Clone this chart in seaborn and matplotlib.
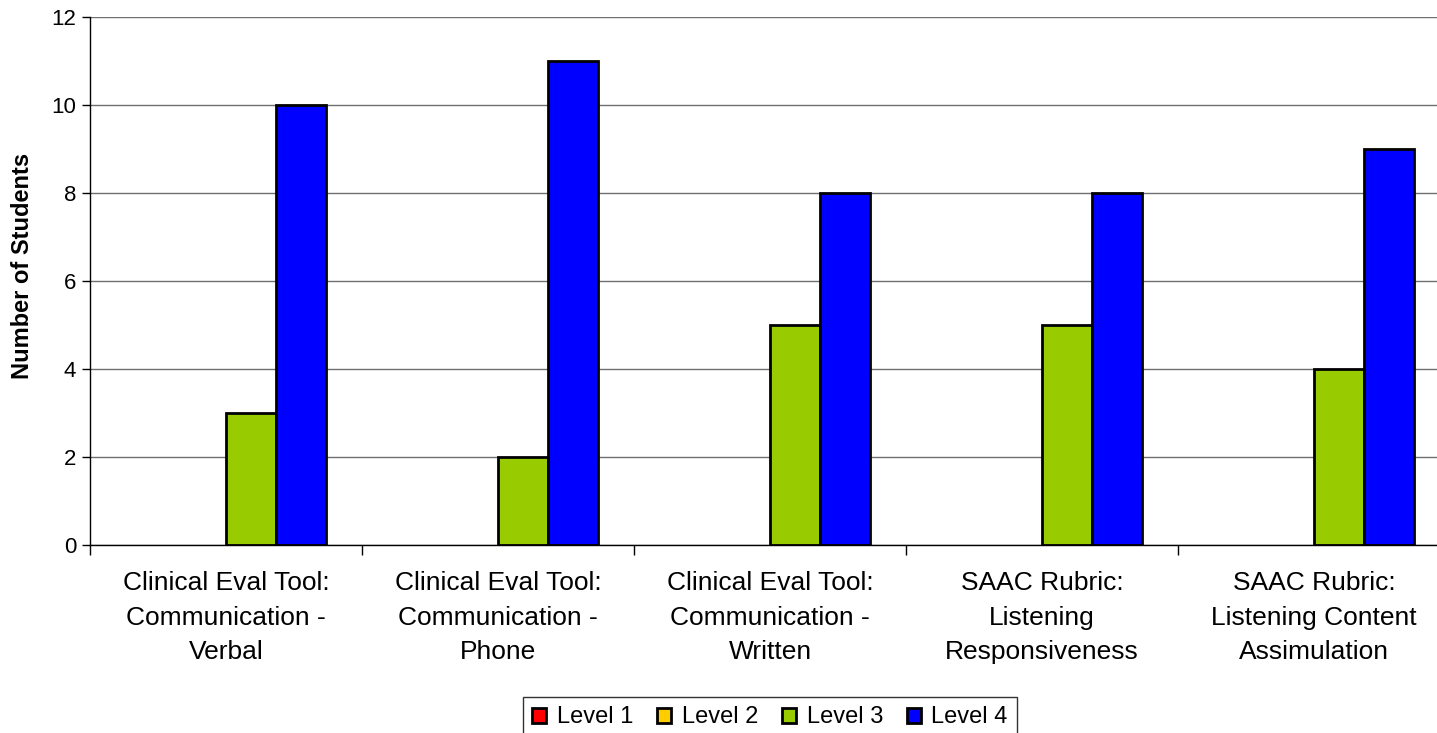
import numpy as np
import pandas as pd
import matplotlib
matplotlib.use("Agg")
import matplotlib.pyplot as plt
import seaborn as sns
from matplotlib.patches import Patch

categories = [
    "Clinical Eval Tool:\nCommunication -\nVerbal",
    "Clinical Eval Tool:\nCommunication -\nPhone",
    "Clinical Eval Tool:\nCommunication -\nWritten",
    "SAAC Rubric:\nListening\nResponsiveness",
    "SAAC Rubric:\nListening Content\nAssimulation",
]
levels = ["Level 1", "Level 2", "Level 3", "Level 4"]
level1 = [0, 0, 0, 0, 0]
level2 = [0, 0, 0, 0, 0]
level3 = [3, 2, 5, 5, 4]
level4 = [10, 11, 8, 8, 9]
colors = ["#FF0000", "#FFCC00", "#99CC00", "#0000FF"]
yticks = [0, 2, 4, 6, 8, 10, 12]

rows = []
for lev, vals in zip(levels, [level1, level2, level3, level4]):
    for cat, v in zip(categories, vals):
        rows.append({"cat": cat, "level": lev, "count": v})
df = pd.DataFrame(rows)

sns.set_style("white")
plt.rcParams["font.family"] = ["Liberation Sans", "DejaVu Sans"]
plt.rcParams["text.color"] = "black"
plt.rcParams["xtick.labelcolor"] = "black"
plt.rcParams["ytick.labelcolor"] = "black"

fig = plt.figure(figsize=(14.37, 7.33), dpi=100)
ax = fig.add_axes([90 / 1437, 1 - 545 / 733, 1360 / 1437, 528 / 733])

sns.barplot(data=df, x="cat", y="count", hue="level", hue_order=levels,
            palette=colors, width=0.735, edgecolor="black", linewidth=2,
            saturation=1, ax=ax, legend=False)
# hide zero-height bars
for p in ax.patches:
    if p.get_height() == 0:
        p.set_visible(False)

ax.set_ylim(0, 12)
ax.set_xlim(-0.5, 4.5)
ax.set_yticks(yticks)
ax.yaxis.grid(True, color="#707070", linewidth=1)
ax.set_axisbelow(True)
ax.tick_params(axis="y", labelsize=16, length=6, width=1, color="black",
               labelcolor="black", direction="out", left=True, pad=4)
ax.set_xticks(range(len(categories)))
ax.set_xticklabels(categories, fontsize=19, linespacing=1.55)
ax.tick_params(axis="x", length=0, pad=19, labelcolor="black")
ax.set_xticks(np.arange(-0.5, 5, 1), minor=True)
ax.tick_params(axis="x", which="minor", length=7, width=1, color="black",
               direction="out", bottom=True)
ax.set_xlabel("")
ax.set_ylabel("")
for s in ["top", "right"]:
    ax.spines[s].set_visible(False)
for s in ["left", "bottom"]:
    ax.spines[s].set_color("black")
    ax.spines[s].set_linewidth(1)

fig.text(23 / 1437, 1 - 266 / 733, "Number of Students", rotation=90,
         fontsize=17, fontweight="bold", ha="center", va="center",
         color="black")

handles = [Patch(facecolor=c, edgecolor="black", linewidth=2) for c in colors]
leg = fig.legend(handles, levels, loc="upper center",
                 bbox_to_anchor=(770 / 1437, 1 - 697 / 733), ncol=4,
                 fontsize=17, frameon=True, fancybox=False, edgecolor="black",
                 handlelength=0.6, handleheight=0.6, handletextpad=0.45,
                 columnspacing=1.0, borderpad=0.4, borderaxespad=0)
leg.get_frame().set_linewidth(1)
for t in leg.get_texts():
    t.set_color("black")

fig.savefig("out.png", dpi=100)
